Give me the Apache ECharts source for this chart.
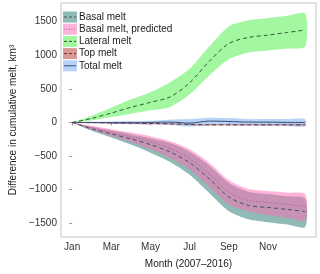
<!DOCTYPE html>
<html><head><meta charset="utf-8">
<script src="https://cdn.jsdelivr.net/npm/echarts@6/dist/echarts.min.js"></script>
<style>html,body{margin:0;padding:0;background:#fff}#c{width:320px;height:274px}</style>
</head><body><div id="c"></div>
<script>
const months = [0,1,2,3,4,5,6,7,8,9,10,11,11.9];
const tickMonths = [0,2,4,6,8,10];
const tickMonthLabels = ['Jan','Mar','May','Jul','Sep','Nov'];
const yTicks = [-1500,-1000,-500,0,500,1000,1500];

const lateralMean  = [0,60,140,225,300,380,590,910,1175,1265,1300,1340,1375];
const lateralUpper = [0,100,220,340,450,600,800,1130,1430,1520,1555,1590,1620];
const lateralLower = [0,30,80,130,180,230,420,700,940,1040,1070,1100,1130];

const basalMean  = [0,-95,-170,-245,-330,-440,-600,-840,-1110,-1235,-1265,-1295,-1326];
const basalUpper = [0,-65,-120,-175,-235,-305,-435,-640,-900,-1030,-1065,-1100,-1137];
const basalLower = [0,-125,-225,-330,-450,-590,-780,-1050,-1320,-1440,-1485,-1520,-1555];

const predMean  = [0,-80,-150,-215,-290,-390,-540,-770,-1040,-1160,-1190,-1220,-1253];
const predUpper = [0,-50,-100,-150,-205,-280,-400,-600,-860,-990,-1020,-1045,-1068];
const predLower = [0,-110,-200,-290,-400,-530,-700,-960,-1220,-1320,-1380,-1420,-1458];

const topMean  = [0,-3,-6,-10,-15,-20,-30,-35,-35,-35,-35,-35,-35];
const topUpper = [0,6,6,2,-3,-8,-18,-23,-23,-23,-23,-23,-23];
const topLower = [0,-12,-18,-22,-27,-32,-42,-47,-47,-47,-47,-47,-47];

const totalMean  = [0,0,-5,-5,0,5,-10,20,15,5,5,0,0];
const totalUpper = [0,10,15,20,25,40,50,70,65,50,50,50,48];
const totalLower = [0,-10,-20,-25,-30,-40,-60,-40,-40,-45,-50,-55,-58];

const legendNames = ['Basal melt','Basal melt, predicted','Lateral melt','Top melt','Total melt'];

function pts(arr){ return months.map((m,i)=>[m,arr[i]]); }
function band(lo, up, color){
  const data = months.map((m,i)=>[m, lo[i], up[i]]);
  return {type:'custom', data:data, silent:true, clip:true,
    encode:{x:0, y:[1,2]},
    renderItem:function(params, api){
      if (params.dataIndex !== 0) return null;
      const upperPts = data.map(d=>api.coord([d[0], d[2]]));
      const lowerPts = data.map(d=>api.coord([d[0], d[1]])).reverse();
      return {type:'polygon', shape:{points:upperPts.concat(lowerPts), smooth:0.25},
         style:{fill:color, stroke:null}};
    }};
}
function mean(arr, color, type, width){
  return {type:'line', data:pts(arr), symbol:'none', smooth:0.3,
    lineStyle:{color:color, type:type, width:width||1}, silent:true};
}

const cLatFill='#a2f7a0', cLatLine='#2f5f33';
const cBasFill='#8fbab5', cBasLine='#3d5656';
const cPredFill='rgba(255,105,180,0.5)', cPredLine='#b0509a';
const cTopFill='rgba(178,34,34,0.45)', cTopLine='#7a2a2a';
const cTotFill='rgba(110,170,240,0.5)', cTotLine='#3a4a72';

const series = [
  band(lateralLower, lateralUpper, cLatFill),
  band(basalLower, basalUpper, cBasFill),
  mean(basalMean, cBasLine, [4,3]),
  band(predLower, predUpper, cPredFill),
  band(topLower, topUpper, cTopFill),
  band(totalLower, totalUpper, cTotFill),
  mean(lateralMean, cLatLine, [4,3]),
  mean(predMean, cPredLine, [1,2]),
  mean(topMean, cTopLine, [4,3]),
  mean(totalMean, cTotLine, 'solid')
];

const fills=['#8fbab5','#ffb4da','#a2f7a0','#d99999','#b6d4f7'];
const lines=[cBasLine,cPredLine,cLatLine,cTopLine,cTotLine];
const dashes=[[3,2],[1,1.5],[3,2],[3,2],null];
const graphics=[];
legendNames.forEach((n,i)=>{
  const cy=17+i*12.2;
  graphics.push({type:'rect', x:63, y:cy-5.5, shape:{x:0,y:0,width:14,height:11}, style:{fill:fills[i]}, z:10});
  graphics.push({type:'line', shape:{x1:64,y1:cy,x2:76,y2:cy}, style:{stroke:lines[i], lineWidth:1, lineDash:dashes[i]}, z:11});
  graphics.push({type:'text', x:79, y:cy, style:{text:n, fill:'#1a1a1a', font:'10px "Liberation Sans", Arial, sans-serif', textVerticalAlign:'middle', verticalAlign:'middle'}, z:11});
});

const chart = echarts.init(document.getElementById('c'), null, {renderer:'canvas'});
chart.setOption({
  animation:false,
  grid:{left:49, right:4, top:3, bottom:32, show:true, borderColor:'#c4c4c4', borderWidth:1, backgroundColor:'transparent'},
  xAxis:{type:'value', min:-0.57, max:12.45,
    name:'Month (2007\u20132016)', nameLocation:'middle', nameGap:22,
    nameTextStyle:{color:'#1a1a1a', fontSize:10, fontFamily:'Liberation Sans'},
    axisLine:{show:false}, splitLine:{show:false},
    axisTick:{show:true, customValues:tickMonths, length:3, lineStyle:{color:'#999'}},
    axisLabel:{customValues:tickMonths, color:'#333', fontSize:10, fontFamily:'Liberation Sans', margin:5,
      formatter:v=>tickMonthLabels[tickMonths.indexOf(Math.round(v))]}},
  yAxis:{type:'value', min:-1705, max:1778,
    name:'Difference in cumulative melt, km\u00b3', nameLocation:'middle', nameGap:37,
    nameTextStyle:{color:'#1a1a1a', fontSize:10, fontFamily:'Liberation Sans'},
    axisLine:{show:false}, splitLine:{show:false},
    axisTick:{show:true, customValues:yTicks, length:3, lineStyle:{color:'#999'}},
    axisLabel:{customValues:yTicks, color:'#333', fontSize:10, fontFamily:'Liberation Sans', margin:4,
      formatter:v=>String(v).replace('-', '\u2212')}},
  series:series,
  graphic:graphics
});
</script></body></html>
